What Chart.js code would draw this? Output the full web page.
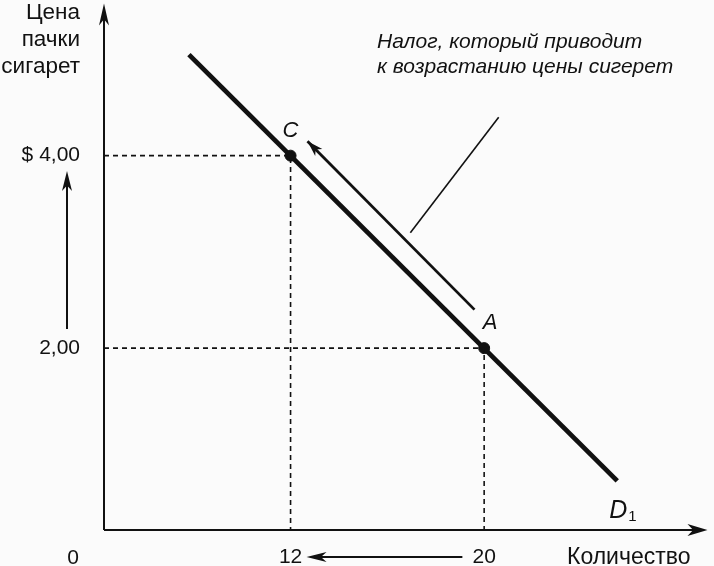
<!DOCTYPE html>
<html>
<head>
<meta charset="utf-8">
<title>Налог и цена сигарет</title>
<script src="https://cdn.jsdelivr.net/npm/chart.js@4.4.1/dist/chart.umd.min.js"></script>
<style>
    html, body { margin: 0; padding: 0; background: #fbfbfb; }
    #wrap { width: 714px; height: 566px; position: relative; }
</style>
</head>
<body>
<div id="wrap"><canvas id="taxChart"></canvas></div>
<script>
// Values
const qtyTicks = [12, 20];
const priceTicks = [2, 4];
const priceTickLabels = ['2,00', '$ 4,00'];
const pointX = [12, 20];
const pointY = [4, 2];
const pointNames = ['C', 'A'];
const demandX = [7.8, 25.5];
const demandY = [5.05, 0.62];
const moveX = [19.6, 12.7];
const moveY = [2.4, 4.15];
const calloutX = [16.95, 20.6];
const calloutY = [3.2, 4.4];
const priceArrowY = [2.2, 3.84];
const qtyArrowX = [19.1, 12.66];
const xRange = [4.29, 29.23];
const yRange = [0.11, 5.55];
const yTitle = ['Цена', 'пачки', 'сигарет'];
const xTitle = 'Количество';
const noteLines = ['Налог, который приводит', 'к возрастанию цены сигерет'];

const ink = '#111';
const family = '"Liberation Sans", Arial, sans-serif';
const font = (size, style) => (style ? style + ' ' : '') + size + 'px ' + family;

function arrowHead(ctx, x0, y0, x1, y1, len, half) {
    const a = Math.atan2(y1 - y0, x1 - x0);
    ctx.save();
    ctx.translate(x1, y1);
    ctx.rotate(a);
    ctx.beginPath();
    ctx.moveTo(0, 0);
    ctx.lineTo(-len, -half);
    ctx.lineTo(-len * 0.72, 0);
    ctx.lineTo(-len, half);
    ctx.closePath();
    ctx.fill();
    ctx.restore();
}

const toPts = (xs, ys) => xs.map((x, i) => ({ x: x, y: ys[i] }));

// no extra room for tick labels at the ends of the axes
function fixSize(s, w, h) {
    if (w) s.width = w;
    if (h) s.height = h;
    s.paddingTop = 0;
    s.paddingBottom = 0;
    s.paddingLeft = 0;
    s.paddingRight = 0;
}

// dashed guides from the axes to each point
const guides = pointX.map((x, i) => ({
    data: [{ x: xRange[0], y: pointY[i] }, { x: x, y: pointY[i] }, { x: x, y: yRange[0] }],
    borderColor: ink,
    borderWidth: 1.6,
    borderDash: [5, 4],
    pointRadius: 0,
    showLine: true
}));

const sketch = {
    id: 'sketch',
    beforeDatasetsDraw(chart) {
        const { ctx, chartArea: a } = chart;
        ctx.save();
        ctx.strokeStyle = ink;
        ctx.fillStyle = ink;
        ctx.lineWidth = 2;
        ctx.beginPath();
        ctx.moveTo(a.left, a.bottom);
        ctx.lineTo(a.left, a.top + 10);
        ctx.moveTo(a.left, a.bottom);
        ctx.lineTo(a.right - 10, a.bottom);
        ctx.stroke();
        arrowHead(ctx, a.left, a.bottom, a.left, a.top - 3, 22, 5);
        arrowHead(ctx, a.left, a.bottom, a.right, a.bottom, 20, 6);
        ctx.restore();
    },
    afterDraw(chart) {
        const { ctx, chartArea: a, scales } = chart;
        const xs = scales.x, ys = scales.y;
        ctx.save();
        ctx.fillStyle = ink;
        ctx.strokeStyle = ink;

        // arrow along the demand curve (A -> C)
        const mv = chart.getDatasetMeta(3).data;
        arrowHead(ctx, mv[0].x, mv[0].y, mv[1].x, mv[1].y, 16, 5);

        // price rise arrow on the left
        const px = a.left - 37;
        const p0 = ys.getPixelForValue(priceArrowY[0]);
        const p1 = ys.getPixelForValue(priceArrowY[1]);
        ctx.lineWidth = 2;
        ctx.beginPath();
        ctx.moveTo(px, p0);
        ctx.lineTo(px, p1 + 10);
        ctx.stroke();
        arrowHead(ctx, px, p0, px, p1, 20, 5);

        // quantity fall arrow at the bottom
        const qy = a.bottom + 27;
        const q0 = xs.getPixelForValue(qtyArrowX[0]);
        const q1 = xs.getPixelForValue(qtyArrowX[1]);
        ctx.beginPath();
        ctx.moveTo(q0, qy);
        ctx.lineTo(q1 + 10, qy);
        ctx.stroke();
        arrowHead(ctx, q0, qy, q1, qy, 20, 5);

        // axis titles
        ctx.font = font(22.5);
        ctx.textAlign = 'right';
        ctx.textBaseline = 'alphabetic';
        yTitle.forEach((t, i) => ctx.fillText(t, a.left - 24, 19 + i * 27));
        ctx.font = font(23);
        ctx.textAlign = 'left';
        ctx.fillText(xTitle, 567, a.bottom + 34);
        ctx.font = font(21);
        ctx.textAlign = 'center';
        ctx.fillText('0', 73, a.bottom + 34);

        // point names
        ctx.font = font(22, 'italic');
        pointNames.forEach((n, i) => {
            const dx = i === 0 ? 0 : 6;
            ctx.fillText(n, xs.getPixelForValue(pointX[i]) + dx, ys.getPixelForValue(pointY[i]) - 19);
        });

        // D1 label at the end of the curve
        const ex = xs.getPixelForValue(demandX[1]);
        const ey = ys.getPixelForValue(demandY[1]);
        ctx.textAlign = 'left';
        ctx.font = font(25, 'italic');
        ctx.fillText('D', ex - 8, ey + 37);
        ctx.font = font(15);
        ctx.fillText('1', ex + 11, ey + 40);

        // tax note
        ctx.font = font(21, 'italic');
        noteLines.forEach((t, i) => ctx.fillText(t, 377, 48 + i * 25));
        ctx.restore();
    }
};

new Chart(document.getElementById('taxChart'), {
    type: 'scatter',
    data: {
        datasets: guides.concat([
            {
                // demand curve D1
                data: toPts(demandX, demandY),
                borderColor: ink,
                borderWidth: 4.8,
                pointRadius: 0,
                showLine: true
            },
            {
                // movement along the curve
                data: toPts(moveX, moveY),
                borderColor: ink,
                borderWidth: 2.8,
                pointRadius: 0,
                showLine: true
            },
            {
                // callout line to the note
                data: toPts(calloutX, calloutY),
                borderColor: ink,
                borderWidth: 1.6,
                pointRadius: 0,
                showLine: true
            },
            {
                // points C and A
                data: toPts(pointX, pointY),
                backgroundColor: ink,
                borderColor: ink,
                pointRadius: 5.5,
                showLine: false
            }
        ])
    },
    options: {
        responsive: true,
        maintainAspectRatio: false,
        animation: false,
        layout: { padding: { top: 5, right: 2, left: 0, bottom: 0 } },
        plugins: {
            legend: { display: false },
            tooltip: { enabled: false }
        },
        scales: {
            x: {
                type: 'linear',
                min: xRange[0],
                max: xRange[1],
                grid: { display: false, drawTicks: false },
                border: { display: false },
                afterBuildTicks: s => { s.ticks = qtyTicks.map(v => ({ value: v })); },
                afterFit: s => fixSize(s, 0, 36),
                ticks: {
                    autoSkip: false,
                    maxRotation: 0,
                    padding: 15,
                    color: ink,
                    font: { family: family, size: 21 },
                    callback: v => String(v)
                }
            },
            y: {
                type: 'linear',
                min: yRange[0],
                max: yRange[1],
                grid: { display: false, drawTicks: false },
                border: { display: false },
                afterBuildTicks: s => { s.ticks = priceTicks.map(v => ({ value: v })); },
                afterFit: s => fixSize(s, 104, 0),
                ticks: {
                    autoSkip: false,
                    padding: 24,
                    color: ink,
                    font: { family: family, size: 21 },
                    callback: (v, i) => priceTickLabels[i]
                }
            }
        }
    },
    plugins: [sketch]
});
</script>
</body>
</html>
